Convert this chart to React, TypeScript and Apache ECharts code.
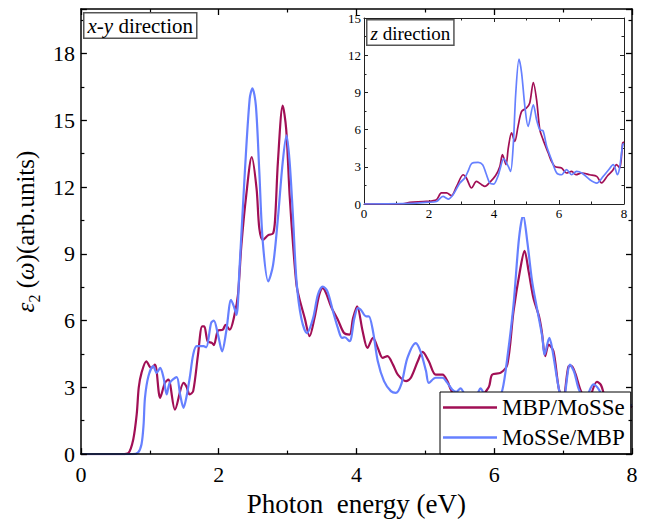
import React, { useEffect, useRef } from "react";
import * as echarts from "echarts";

const FONT = "Liberation Serif";
const RED = "#A10F55";
const BLUE = "#6680FF";
const NAMES = ["MBP/MoSSe", "MoSSe/MBP"];

// x-y direction, MBP/MoSSe
const xyRedE = [0, 0.6, 0.69, 0.76, 0.81, 0.84, 0.88, 0.95, 1.02, 1.075, 1.15, 1.22, 1.27, 1.365, 1.49, 1.53, 1.58, 1.63, 1.7, 1.76, 1.79, 1.84, 1.9, 1.93, 1.99, 2.06, 2.1, 2.16, 2.23, 2.28, 2.33, 2.4, 2.48, 2.55, 2.59, 2.64, 2.72, 2.79, 2.82, 2.86, 2.93, 2.98, 3.03, 3.08, 3.13, 3.17, 3.25, 3.32, 3.39, 3.46, 3.51, 3.56, 3.63, 3.73, 3.82, 3.9, 3.95, 4.01, 4.09, 4.16, 4.24, 4.31, 4.38, 4.45, 4.53, 4.6, 4.72, 4.79, 4.89, 4.96, 5.05, 5.15, 5.25, 5.32, 5.37, 5.45, 5.6, 5.8, 5.92, 5.97, 6.09, 6.19, 6.28, 6.38, 6.44, 6.5, 6.57, 6.65, 6.69, 6.74, 6.79, 6.86, 6.94, 7.0, 7.08, 7.12, 7.18, 7.25, 7.35, 7.49, 7.55, 7.62, 7.75, 7.9, 8.0];
const xyRedV = [0, 0, 0.05, 0.66, 1.78, 3.0, 3.65, 4.17, 3.87, 4.02, 2.53, 3.2, 3.35, 2.0, 3.2, 3.05, 2.68, 2.83, 4.47, 5.74, 5.74, 5.07, 5.0, 4.9, 5.55, 5.59, 5.81, 5.59, 6.26, 7.16, 9.4, 11.63, 13.35, 11.93, 10.14, 9.62, 9.84, 9.92, 10.6, 13.13, 15.66, 14.6, 11.63, 9.4, 7.6, 7.0, 6.1, 5.3, 6.1, 7.16, 7.46, 7.23, 6.64, 6.04, 5.44, 5.37, 6.1, 6.64, 5.52, 4.77, 5.22, 4.77, 4.32, 4.4, 4.02, 3.57, 3.28, 3.43, 4.17, 4.59, 4.17, 3.57, 3.57, 3.28, 2.9, 2.5, 2.4, 2.6, 3.0, 3.57, 3.65, 4.02, 6.41, 8.35, 9.13, 8.2, 7.0, 6.19, 5.52, 4.4, 4.92, 4.62, 2.9, 2.5, 3.95, 3.97, 3.6, 2.9, 2.3, 3.25, 3.1, 2.5, 2.2, 2.3, 2.1];

// x-y direction, MoSSe/MBP
const xyBlueE = [0, 0.75, 0.83, 0.88, 0.91, 0.93, 0.98, 1.05, 1.1, 1.15, 1.2, 1.245, 1.29, 1.39, 1.44, 1.49, 1.53, 1.58, 1.63, 1.68, 1.78, 1.82, 1.89, 1.93, 1.99, 2.05, 2.11, 2.18, 2.22, 2.26, 2.3, 2.38, 2.45, 2.49, 2.54, 2.59, 2.64, 2.72, 2.79, 2.86, 2.93, 2.985, 3.03, 3.08, 3.13, 3.2, 3.28, 3.37, 3.44, 3.51, 3.58, 3.66, 3.73, 3.79, 3.83, 3.9, 3.97, 4.02, 4.06, 4.14, 4.18, 4.24, 4.31, 4.4, 4.5, 4.57, 4.65, 4.74, 4.86, 4.93, 5.01, 5.05, 5.15, 5.25, 5.32, 5.39, 5.45, 5.51, 5.6, 5.75, 5.8, 5.9, 6.05, 6.12, 6.19, 6.28, 6.36, 6.42, 6.48, 6.55, 6.62, 6.7, 6.73, 6.8, 6.84, 6.94, 7.0, 7.1, 7.16, 7.23, 7.32, 7.44, 7.52, 7.6, 7.75, 7.9, 8.0];
const xyBlueV = [0, 0, 0.07, 0.44, 1.33, 2.53, 3.5, 3.95, 3.65, 3.87, 3.43, 2.68, 3.2, 3.46, 2.68, 2.08, 2.53, 3.43, 4.47, 4.85, 4.85, 4.8, 5.89, 6.0, 5.37, 4.62, 5.52, 6.93, 6.64, 6.26, 8.2, 12.68, 15.96, 16.44, 15.66, 12.68, 9.55, 7.76, 8.5, 10.6, 13.13, 14.32, 13.13, 10.6, 7.76, 6.1, 5.44, 6.1, 7.16, 7.53, 7.3, 6.41, 5.67, 5.22, 5.25, 5.07, 6.1, 6.56, 6.5, 6.19, 6.19, 5.52, 4.17, 3.28, 2.83, 2.75, 3.13, 4.32, 4.99, 4.62, 3.73, 3.2, 3.43, 3.43, 3.2, 2.9, 2.8, 2.95, 2.6, 2.7, 2.95, 2.5, 2.5, 2.9, 4.32, 6.71, 9.7, 10.74, 9.55, 7.76, 6.56, 5.22, 4.47, 5.22, 4.77, 2.9, 2.4, 4.02, 3.7, 2.9, 2.5, 3.13, 2.9, 2.4, 2.3, 2.2, 2.2];

// z direction, MBP/MoSSe
const zRedE = [0, 1.2, 1.41, 1.92, 2.23, 2.38, 2.54, 2.69, 2.85, 3.05, 3.15, 3.31, 3.46, 3.62, 3.72, 3.87, 4.05, 4.18, 4.26, 4.37, 4.44, 4.54, 4.64, 4.74, 4.85, 5.0, 5.1, 5.21, 5.31, 5.41, 5.51, 5.67, 5.77, 5.87, 6.08, 6.23, 6.39, 6.52, 6.7, 6.95, 7.16, 7.31, 7.5, 7.65, 7.77, 7.87, 7.96, 8.0];
const zRedV = [0, 0.02, 0.13, 0.21, 0.35, 0.89, 0.89, 0.67, 1.42, 2.36, 2.1, 1.29, 1.82, 1.56, 1.42, 1.75, 2.3, 3.03, 3.98, 3.17, 4.52, 5.73, 5.05, 6.26, 7.47, 7.74, 8.15, 9.8, 8.41, 5.99, 5.19, 4.11, 3.44, 3.03, 2.9, 2.5, 2.63, 2.36, 2.5, 2.36, 2.23, 1.7, 2.3, 2.7, 3.17, 2.9, 4.92, 5.0];

// z direction, MoSSe/MBP
const zBlueE = [0, 1.5, 1.92, 2.23, 2.43, 2.59, 2.74, 2.95, 3.1, 3.2, 3.31, 3.51, 3.65, 3.75, 3.87, 3.99, 4.13, 4.18, 4.3, 4.44, 4.51, 4.59, 4.67, 4.77, 4.85, 4.95, 5.05, 5.21, 5.31, 5.41, 5.51, 5.62, 5.77, 5.93, 6.08, 6.23, 6.39, 6.54, 6.7, 6.95, 7.16, 7.36, 7.51, 7.67, 7.8, 7.87, 7.96, 8.0];
const zBlueV = [0, 0.05, 0.13, 0.2, 0.61, 0.4, 0.75, 1.69, 2.1, 2.63, 3.25, 3.35, 3.17, 2.5, 1.69, 1.6, 2.3, 2.77, 3.65, 3.03, 2.63, 4.65, 8.95, 11.69, 10.56, 7.87, 6.26, 8.0, 6.8, 5.99, 5.9, 4.65, 3.57, 2.5, 2.36, 2.77, 2.36, 2.63, 2.5, 1.96, 1.69, 2.23, 2.7, 3.17, 2.36, 3.0, 4.8, 4.85];

const zip = (xs: number[], ys: number[]) => xs.map((x, i) => [x, ys[i]]);

function mainAxis(extra: any) {
  return {
    type: "value",
    z: 10,
    axisLine: { show: true, onZero: false, lineStyle: { color: "#000", width: 1.5 } },
    axisTick: { show: true, inside: true, length: 6, lineStyle: { color: "#000", width: 1.3 } },
    minorTick: { show: true, splitNumber: 2, length: 3.5, lineStyle: { color: "#000", width: 1.2 } },
    splitLine: { show: false },
    axisLabel: { show: true, fontFamily: FONT, fontSize: 22, color: "#000" },
    ...extra,
  };
}

function insetAxis(extra: any) {
  return {
    type: "value",
    z: 12,
    axisLine: { show: true, onZero: false, lineStyle: { color: "#222", width: 1 } },
    axisTick: { show: true, inside: true, length: 4, lineStyle: { color: "#222", width: 1 } },
    minorTick: { show: true, splitNumber: 2, length: 2.5, lineStyle: { color: "#222", width: 1 } },
    splitLine: { show: false },
    axisLabel: { show: true, fontFamily: FONT, fontSize: 13, color: "#000", margin: 3 },
    ...extra,
  };
}

export default function App() {
  const ref = useRef<HTMLDivElement>(null);
  useEffect(() => {
    if (!ref.current) return;
    const chart = echarts.init(ref.current, null, { renderer: "svg" });
    const option: any = {
      animation: false,
      backgroundColor: "#fff",
      textStyle: { fontFamily: FONT },
      grid: [
        { left: 79, top: 9, right: 33, bottom: 66 },
        { left: 364, top: 18, right: 41, bottom: 318 },
      ],
      legend: {
        data: NAMES.map((n) => ({ name: n, icon: "rect" })),
        orient: "vertical",
        left: 440,
        top: 392,
        itemWidth: 54,
        itemHeight: 2.5,
        itemGap: 7,
        padding: [4, 6, 5, 3],
        backgroundColor: "#fff",
        borderColor: "#000",
        borderWidth: 1,
        borderRadius: 0,
        textStyle: { fontFamily: FONT, fontSize: 23, color: "#000", lineHeight: 23 },
      },
      xAxis: [
        mainAxis({
          gridIndex: 0, position: "bottom", min: 0, max: 8, interval: 2,
          axisLabel: { fontFamily: FONT, fontSize: 22, color: "#000", margin: 9 },
          name: "Photon\u00A0 energy (eV)", nameLocation: "middle", nameGap: 33,
          nameTextStyle: { fontFamily: FONT, fontSize: 27, color: "#000" },
        }),
        mainAxis({ gridIndex: 0, position: "top", min: 0, max: 8, interval: 2, axisLabel: { show: false } }),
        insetAxis({ gridIndex: 1, position: "bottom", min: 0, max: 8, interval: 2 }),
        insetAxis({ gridIndex: 1, position: "top", min: 0, max: 8, interval: 2, axisLabel: { show: false } }),
      ],
      yAxis: [
        mainAxis({
          gridIndex: 0, position: "left", min: 0, max: 20, interval: 3,
          axisLabel: { fontFamily: FONT, fontSize: 22, color: "#000", margin: 6, showMaxLabel: false },
          name: "{i|ε}{s|2} ({i|ω})(arb.units)", nameLocation: "middle", nameGap: 37, nameRotate: 90,
          nameTextStyle: {
            fontFamily: FONT, fontSize: 25, color: "#000", lineHeight: 34,
            rich: {
              i: { fontFamily: FONT, fontSize: 25, fontStyle: "italic", color: "#000", lineHeight: 34 },
              s: { fontFamily: FONT, fontSize: 16, color: "#000", verticalAlign: "bottom", lineHeight: 34 },
            },
          },
        }),
        mainAxis({ gridIndex: 0, position: "right", min: 0, max: 20, interval: 3, axisLabel: { show: false } }),
        insetAxis({ gridIndex: 1, position: "left", min: 0, max: 15, interval: 3 }),
        insetAxis({ gridIndex: 1, position: "right", min: 0, max: 15, interval: 3, axisLabel: { show: false } }),
      ],
      graphic: [
        {
          type: "rect", z: 5, silent: true,
          shape: { x: 338, y: 10, width: 289, height: 207 },
          style: { fill: "#fff" },
        },
        {
          type: "text", z: 20, left: 83, top: 12,
          style: {
            text: "{i|x-y} direction",
            fontFamily: FONT, fontSize: 21, fill: "#000",
            rich: { i: { fontFamily: FONT, fontSize: 21, fontStyle: "italic", fill: "#000" } },
            backgroundColor: "#fff", borderColor: "#555", borderWidth: 1.5, padding: [2, 3, 1, 3],
          },
        },
        {
          type: "text", z: 20, left: 366, top: 19,
          style: {
            text: "{i|z} direction",
            fontFamily: FONT, fontSize: 19, fill: "#000",
            rich: { i: { fontFamily: FONT, fontSize: 19, fontStyle: "italic", fill: "#000" } },
            backgroundColor: "#fff", borderColor: "#555", borderWidth: 1.5, padding: [3, 3, 2, 3],
          },
        },
      ],
      series: [
        {
          name: NAMES[0], type: "line", xAxisIndex: 0, yAxisIndex: 0, z: 2,
          data: zip(xyRedE, xyRedV), showSymbol: false, symbol: "none", smooth: 0.3,
          lineStyle: { color: RED, width: 2.2 }, itemStyle: { color: RED },
        },
        {
          name: NAMES[1], type: "line", xAxisIndex: 0, yAxisIndex: 0, z: 3,
          data: zip(xyBlueE, xyBlueV), showSymbol: false, symbol: "none", smooth: 0.3,
          lineStyle: { color: BLUE, width: 2.2 }, itemStyle: { color: BLUE },
        },
        {
          name: NAMES[0], type: "line", xAxisIndex: 2, yAxisIndex: 2, z: 13,
          data: zip(zRedE, zRedV), showSymbol: false, symbol: "none", smooth: 0.3,
          lineStyle: { color: RED, width: 1.7 }, itemStyle: { color: RED },
        },
        {
          name: NAMES[1], type: "line", xAxisIndex: 2, yAxisIndex: 2, z: 14,
          data: zip(zBlueE, zBlueV), showSymbol: false, symbol: "none", smooth: 0.3,
          lineStyle: { color: BLUE, width: 1.7 }, itemStyle: { color: BLUE },
        },
      ],
    };
    chart.setOption(option);
    return () => chart.dispose();
  }, []);
  return <div ref={ref} style={{ width: 665, height: 522, position: "absolute", left: 0, top: 0 }} />;
}
